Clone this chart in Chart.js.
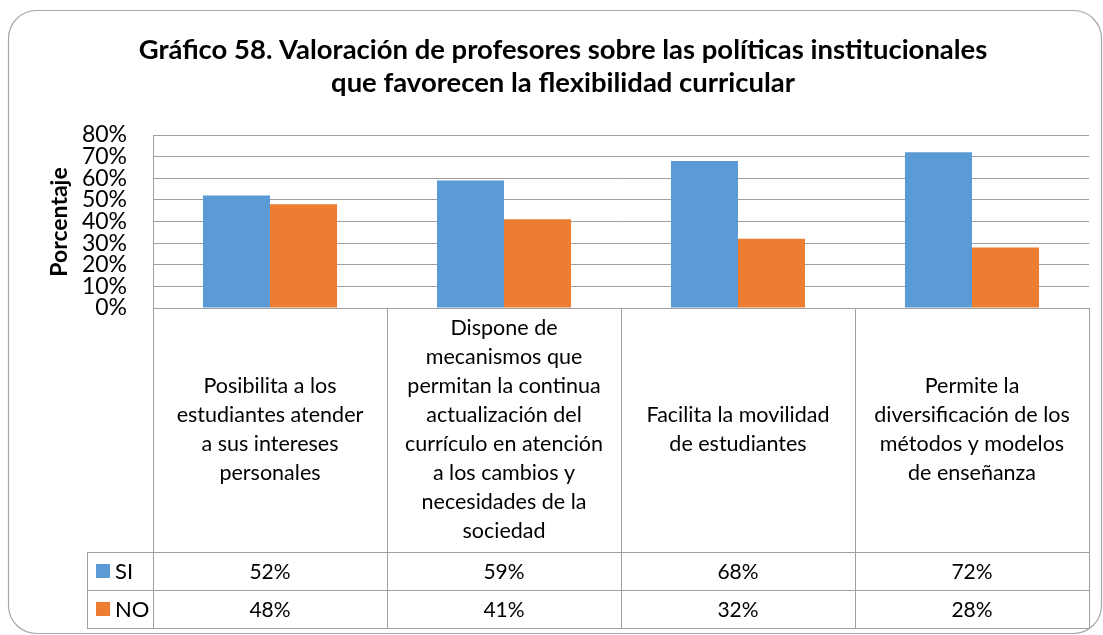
<!DOCTYPE html>
<html><head><meta charset="utf-8">
<script src="https://cdn.jsdelivr.net/npm/chart.js@4"></script>
<style>html,body{margin:0;padding:0;background:#fff}#wrap{width:1103px;height:635px;position:relative}</style>
</head><body><div id="wrap"><canvas id="c" width="1103" height="635"></canvas></div>
<script>
const titleLines = ['Gráfico 58. Valoración de profesores sobre las políticas institucionales', 'que favorecen la flexibilidad curricular'];
const yAxisTitle = 'Porcentaje';
const categories = [
  ['Posibilita a los', 'estudiantes atender', 'a sus intereses', 'personales'],
  ['Dispone de', 'mecanismos que', 'permitan la continua', 'actualización del', 'currículo en atención', 'a los cambios y', 'necesidades de la', 'sociedad'],
  ['Facilita la movilidad', 'de estudiantes'],
  ['Permite la', 'diversificación de los', 'métodos y modelos', 'de enseñanza']
];
const seriesNames = ['SI', 'NO'];
const siValues = [52, 59, 68, 72];
const noValues = [48, 41, 32, 28];
const yMin = 0, yMax = 80, yStep = 10;
const colors = ['#5B9BD5', '#ED7D31'];

const FONT = 'Lato, "Open Sans", sans-serif';
const LINE = '#a0a0a0';

const decor = {
  id: 'decor',
  beforeDraw(chart) {
    const ctx = chart.ctx;
    ctx.save();
    ctx.fillStyle = '#fff';
    ctx.fillRect(0, 0, chart.width, chart.height);
    ctx.strokeStyle = '#a6a6a6';
    ctx.lineWidth = 1.2;
    ctx.beginPath();
    ctx.roundRect(8.5, 10.5, 1093, 623, 28);
    ctx.stroke();
    ctx.restore();
  },
  afterDraw(chart) {
    const ctx = chart.ctx;
    const a = chart.chartArea;
    ctx.save();
    // title
    ctx.fillStyle = '#000';
    ctx.font = 'bold 100px ' + FONT;
    const w1 = ctx.measureText(titleLines[0]).width;
    const ts = 100 * 849 / w1;
    ctx.font = 'bold ' + ts.toFixed(2) + 'px ' + FONT;
    ctx.textAlign = 'center';
    ctx.textBaseline = 'middle';
    ctx.fillText(titleLines[0], 563, 50);
    ctx.fillText(titleLines[1], 563, 83);
    // y axis title
    ctx.save();
    ctx.translate(60, 222);
    ctx.rotate(-Math.PI / 2);
    ctx.font = 'bold 23px ' + FONT;
    ctx.fillText(yAxisTitle, 0, 0);
    ctx.restore();
    // table geometry
    const n = categories.length;
    const colW = (a.right - a.left) / n;
    const catBottom = 552, row1 = 590, row2 = 628, legLeft = 87;
    ctx.strokeStyle = LINE;
    ctx.lineWidth = 1;
    ctx.beginPath();
    const px = v => Math.round(v) + 0.5;
    [catBottom, row1, row2].forEach(y => { ctx.moveTo(legLeft, px(y)); ctx.lineTo(a.right, px(y)); });
    ctx.moveTo(px(legLeft), catBottom); ctx.lineTo(px(legLeft), row2);
    ctx.moveTo(px(a.left), a.bottom); ctx.lineTo(px(a.left), row2);
    for (let i = 1; i <= n; i++) {
      const x = px(a.left + i * colW);
      ctx.moveTo(x, a.bottom); ctx.lineTo(x, row2);
    }
    ctx.stroke();
    // category texts
    ctx.fillStyle = '#000';
    ctx.font = '21.5px ' + FONT;
    const lh = 29;
    const xs = chart.scales.x;
    const midY = (a.bottom + catBottom) / 2;
    categories.forEach((lines, i) => {
      const cx = xs.getPixelForValue(i);
      const start = midY - (lines.length - 1) * lh / 2;
      lines.forEach((t, j) => ctx.fillText(t, cx, start + j * lh));
    });
    ctx.font = '21px ' + FONT;
    categories.forEach((lines, i) => {
      const cx = xs.getPixelForValue(i);
      ctx.fillText(siValues[i] + '%', cx, (catBottom + row1) / 2 + 1);
      ctx.fillText(noValues[i] + '%', cx, (row1 + row2) / 2 + 1);
    });
    // legend keys
    ctx.textAlign = 'left';
    ctx.font = '22px ' + FONT;
    [[catBottom, row1], [row1, row2]].forEach((r, k) => {
      const cy = (r[0] + r[1]) / 2;
      ctx.fillStyle = colors[k];
      ctx.fillRect(96, cy - 7, 14, 14);
      ctx.fillStyle = '#000';
      ctx.fillText(seriesNames[k], 115, cy + 1);
    });
    ctx.restore();
  }
};

new Chart(document.getElementById('c'), {
  type: 'bar',
  data: {
    labels: categories.map(l => l.join(' ')),
    datasets: [
      { label: seriesNames[0], data: siValues, backgroundColor: colors[0], categoryPercentage: 0.573, barPercentage: 1 },
      { label: seriesNames[1], data: noValues, backgroundColor: colors[1], categoryPercentage: 0.573, barPercentage: 1 }
    ]
  },
  options: {
    responsive: false,
    animation: false,
    devicePixelRatio: 1,
    layout: { padding: { left: 0, top: 135, right: 14, bottom: 327 } },
    plugins: { legend: { display: false }, title: { display: false }, tooltip: { enabled: false } },
    scales: {
      x: { display: false },
      y: {
        min: yMin, max: yMax,
        ticks: { stepSize: yStep, autoSkip: false, padding: 26, color: '#000', font: { family: FONT, size: 23, lineHeight: 1 }, callback: v => v + '%' },
        grid: { color: LINE, drawTicks: false },
        border: { display: true, color: LINE },
        afterFit: s => { s.width = 153; }
      }
    }
  },
  plugins: [decor]
});
</script>
</body></html>
